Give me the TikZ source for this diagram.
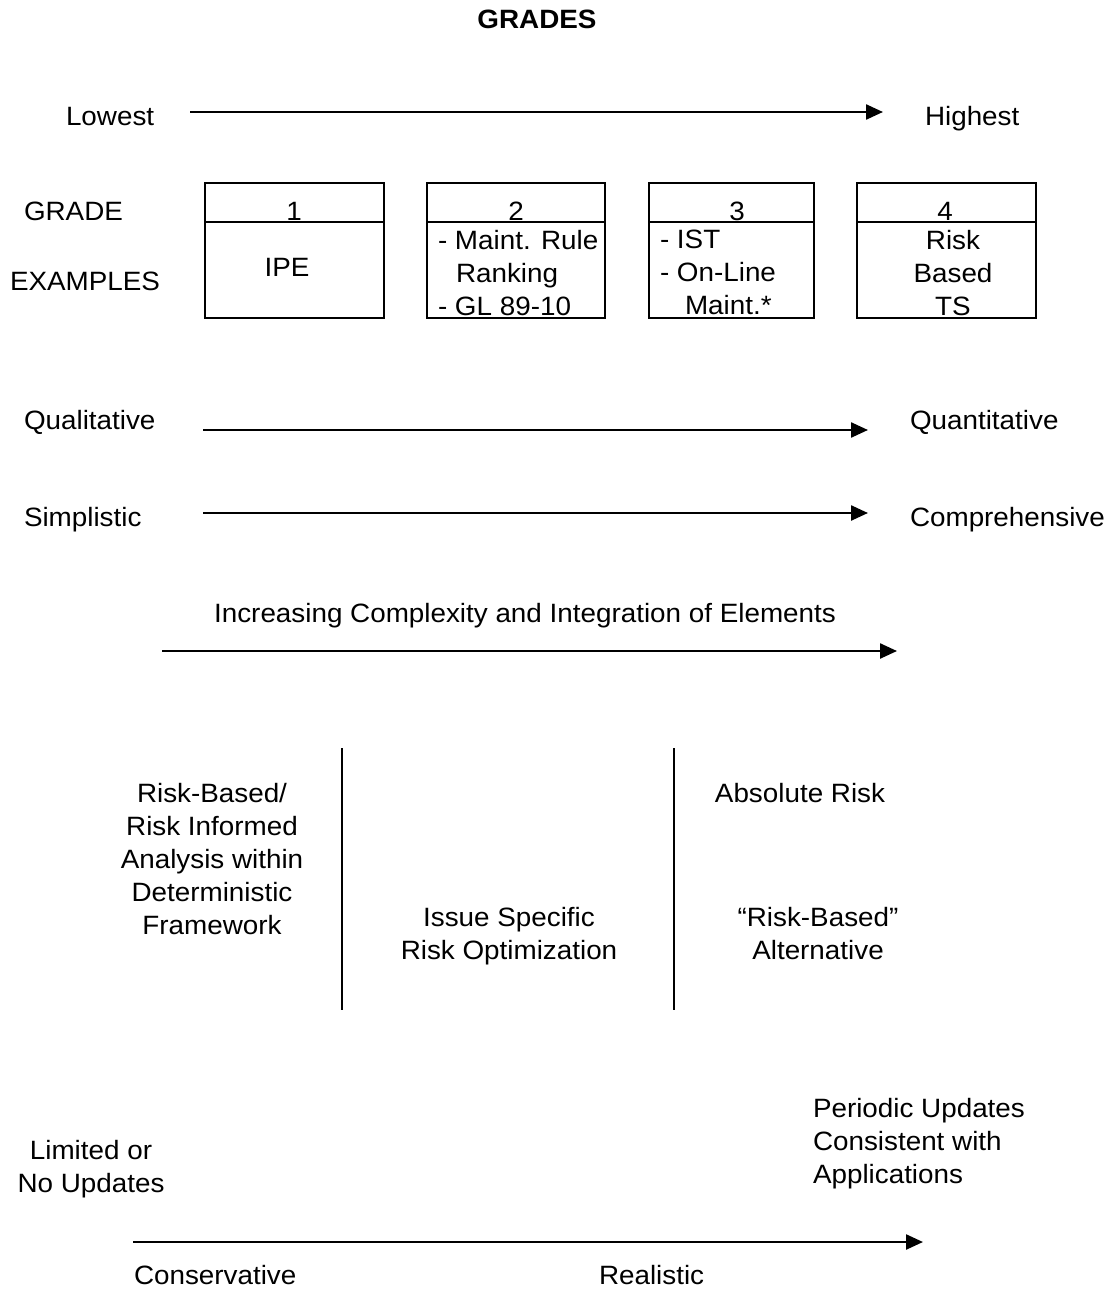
\documentclass[tikz,border=0pt]{standalone}
\usepackage{fontspec}
\setmainfont{Liberation Sans}[FakeStretch=1.05]
\usetikzlibrary{arrows.meta}
\tikzset{
  txt/.style={inner sep=0pt, outer sep=0pt, font=\fontsize{26.5}{33}\selectfont},
  arr/.style={line width=2.4pt, -{Triangle[length=17pt,width=15pt]}},
  gbox/.style={draw, line width=1.8pt, inner sep=0pt, minimum height=135pt, anchor=north west},
  divline/.style={line width=1.8pt},
  vline/.style={line width=2pt},
}
\begin{document}
\begin{tikzpicture}[x=1pt,y=-1pt]
\useasboundingbox (0,0) rectangle (1113,1289);
% title
\node[txt, font=\fontsize{26.5}{33}\selectfont\bfseries, anchor=base] (title) at (537,29) {GRADES};
% scale arrow
\node[txt, anchor=base west] (low) at (66,126) {Lowest};
\node[txt, anchor=base west] (high) at (925,126) {Highest};
\coordinate (a1s) at (190,112); \coordinate (a1e) at (883,112);
\draw[arr] (a1s) -- (a1e);
% row labels
\node[txt, anchor=base west] (grade) at (24,221) {GRADE};
\node[txt, anchor=base west] (examples) at (10,290) {EXAMPLES};
% boxes
\node[gbox, minimum width=179pt] (b1) at (204,182) {};
\node[gbox, minimum width=178pt] (b2) at (426,182) {};
\node[gbox, minimum width=165pt] (b3) at (648,182) {};
\node[gbox, minimum width=179pt] (b4) at (856,182) {};
\foreach \b in {b1,b2,b3,b4}{
  \draw[divline] ([yshift=-40pt]\b.north west) -- ([yshift=-40pt]\b.north east);
}
\node[txt, anchor=base] (g1) at (294,221) {1};
\node[txt, anchor=base] (g2) at (516,221) {2};
\node[txt, anchor=base] (g3) at (737,221) {3};
\node[txt, anchor=base] (g4) at (945,221) {4};
\node[txt, anchor=base] (e1) at (287,276) {IPE};
\node[txt, anchor=north west, align=left] (e2) at (438,230) {- Maint. Rule\\\hspace*{18pt}Ranking\\- GL 89-10};
\node[txt, anchor=north west, align=left] (e3) at (660,230) {- IST\\- On-Line\\\hspace*{25pt}Maint.*};
\node[txt, anchor=north, align=center] (e4) at (953,230) {Risk\\Based\\TS};
% qualitative
\node[txt, anchor=base west] (qual) at (24,429) {Qualitative};
\node[txt, anchor=base west] (quan) at (910,429) {Quantitative};
\coordinate (a2s) at (203,430); \coordinate (a2e) at (868,430);
\draw[arr] (a2s) -- (a2e);
% simplistic
\node[txt, anchor=base west] (simp) at (24,526) {Simplistic};
\node[txt, anchor=base west] (comp) at (910,526) {Comprehensive};
\coordinate (a3s) at (203,513); \coordinate (a3e) at (868,513);
\draw[arr] (a3s) -- (a3e);
% complexity
\node[txt, anchor=base] (incr) at (525,622) {Increasing Complexity and Integration of Elements};
\coordinate (a4s) at (162,651); \coordinate (a4e) at (897,651);
\draw[arr] (a4s) -- (a4e);
% columns
\coordinate (v1t) at (342,748); \coordinate (v1b) at (342,1010);
\coordinate (v2t) at (674,748); \coordinate (v2b) at (674,1010);
\draw[vline] (v1t) -- (v1b);
\draw[vline] (v2t) -- (v2b);
\node[txt, anchor=north, align=center] (c1) at (212,783) {Risk-Based/\\Risk Informed\\Analysis within\\Deterministic\\Framework};
\node[txt, anchor=north, align=center] (c2) at (509,907) {Issue Specific\\Risk Optimization};
\node[txt, anchor=base] (c3) at (800,802) {Absolute Risk};
\node[txt, anchor=north, align=center] (c4) at (818,907) {“Risk-Based”\\Alternative};
% updates
\node[txt, anchor=north west, align=left] (per) at (813,1098) {Periodic Updates\\Consistent with\\Applications};
\node[txt, anchor=north, align=center] (lim) at (91,1140) {Limited or\\No Updates};
\coordinate (a5s) at (133,1242); \coordinate (a5e) at (923,1242);
\draw[arr] (a5s) -- (a5e);
\node[txt, anchor=base west] (cons) at (134,1284) {Conservative};
\node[txt, anchor=base west] (real) at (599,1284) {Realistic};
\end{tikzpicture}
\end{document}
